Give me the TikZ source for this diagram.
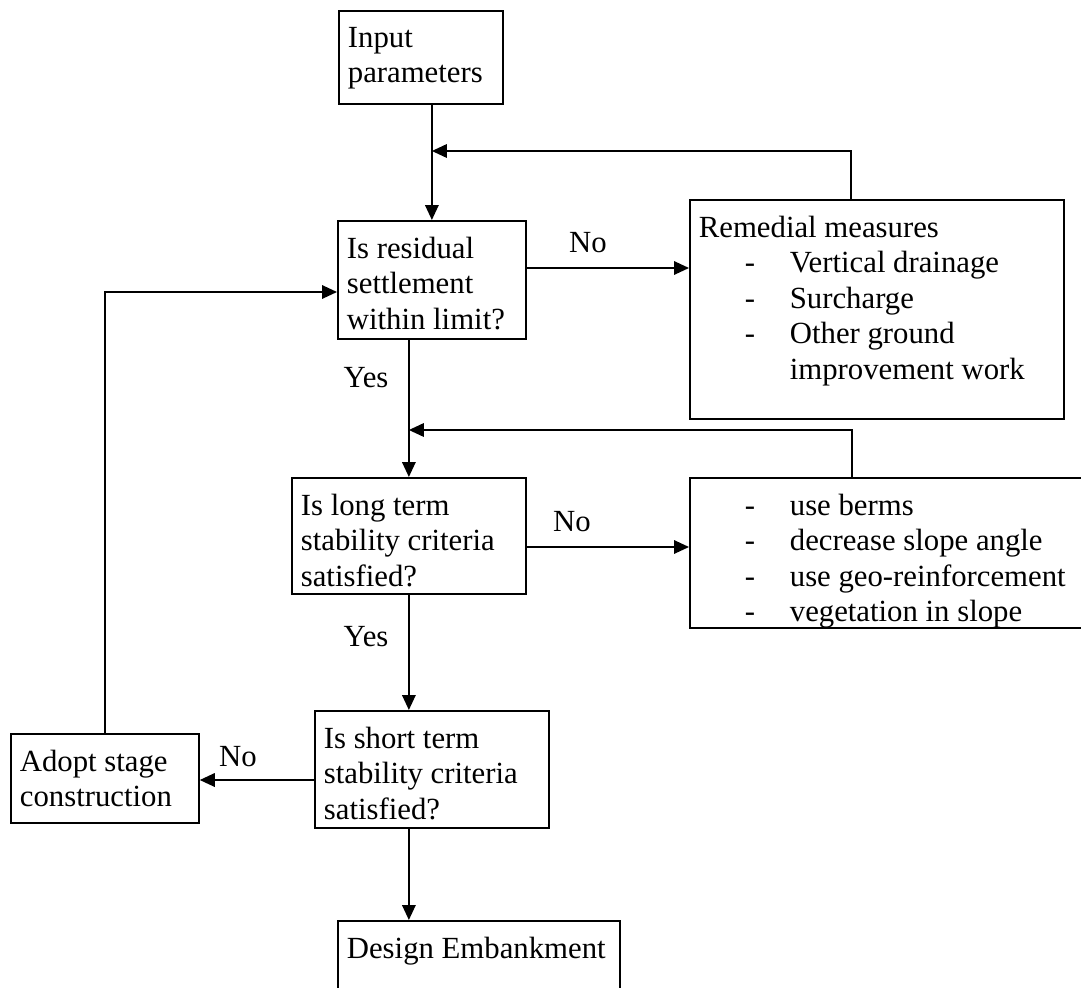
\documentclass[tikz,border=0pt]{standalone}
\usepackage{fontspec}
\setmainfont{Liberation Serif}
\usepackage{tikz}
\usetikzlibrary{arrows.meta}

\setlength{\unitlength}{0.2mm}
\newcommand{\boxtext}[3]{\parbox[c][#2\unitlength][t]{#1\unitlength}{\raggedright #3}}
\newcommand{\dashitem}[1]{\hspace*{46\unitlength}\makebox[45\unitlength][l]{-}#1}
\newcommand{\plainitem}[1]{\hspace*{91\unitlength}#1}

\tikzset{
	box/.style={draw, line width=1pt, rectangle, anchor=north west, inner xsep=9\unitlength, inner ysep=16\unitlength},
	arr/.style={line width=1pt, -{Triangle[length=3mm,width=2.7mm]}},
	lbl/.style={inner sep=0pt}
}

\begin{document}
\begin{tikzpicture}[x=0.2mm, y=-0.2mm, font=\fontsize{17.5}{20.2}\selectfont]
		\useasboundingbox (0,0) rectangle (1081,987);
		\clip (0,0) rectangle (1081,987);
%		\draw[help lines] (0,0) grid[step=50] (1081,987);
		\path (338,10) coordinate (inp_tl);
		\path (337,220) coordinate (res_tl);
		\path (689,199) coordinate (rem_tl);
		\path (291,477) coordinate (lng_tl);
		\path (689,477) coordinate (brm_tl);
		\path (314,710) coordinate (sht_tl);
		\path (10,733) coordinate (adp_tl);
		\path (337,920) coordinate (dsg_tl);

		\path (851,151) coordinate (loop1);
		\path (852,430) coordinate (loop2);
		\path (0,268) coordinate (no1);
		\path (0,547) coordinate (no2);
		\path (0,780) coordinate (no3);
		\path (0,292) coordinate (back);

		\node[box] (inp) at (inp_tl) {\boxtext{146}{61}{Input\\parameters}};
		\node[box] (res) at (res_tl) {\boxtext{170}{86}{Is residual\\settlement\\within limit?}};
		\node[box] (rem) at (rem_tl) {\boxtext{356}{187}{Remedial measures\\
			\dashitem{Vertical drainage}\\
			\dashitem{Surcharge}\\
			\dashitem{Other ground}\\
			\plainitem{improvement work}}};
		\node[box] (lng) at (lng_tl) {\boxtext{216}{84}{Is long term\\stability criteria\\satisfied?}};
		\node[box] (brm) at (brm_tl) {\boxtext{402}{118}{\dashitem{use berms}\\
			\dashitem{decrease slope angle}\\
			\dashitem{use geo-reinforcement}\\
			\dashitem{vegetation in slope}}};
		\node[box] (sht) at (sht_tl) {\boxtext{216}{85}{Is short term\\stability criteria\\satisfied?}};
		\node[box] (adp) at (adp_tl) {\boxtext{170}{57}{Adopt stage\\construction}};
		\node[box] (dsg) at (dsg_tl) {\boxtext{264}{48}{Design Embankment}};

		\node[lbl] (no1_lbl) at (588,243) {No};
		\node[lbl] (no2_lbl) at (572,522) {No};
		\node[lbl] (no3_lbl) at (238,757) {No};
		\node[lbl] (yes1_lbl) at (366,378) {Yes};
		\node[lbl] (yes2_lbl) at (366,637) {Yes};

		\draw[arr] (inp.south -| res.north) -- (res.north);
		\draw[arr] (rem.north -| loop1) -- (loop1) -- (loop1 -| res.north);
		\draw[arr] (res.east |- no1) -- (rem.west |- no1);
		\draw[arr] (res.south -| lng.north) -- (lng.north);
		\draw[arr] (brm.north -| loop2) -- (loop2) -- (loop2 -| lng.north);
		\draw[arr] (lng.east |- no2) -- (brm.west |- no2);
		\draw[arr] (lng.south) -- (lng.south |- sht.north);
		\draw[arr] (sht.south -| lng.south) -- (lng.south |- dsg.north);
		\draw[arr] (sht.west |- no3) -- (adp.east |- no3);
		\draw[arr] (adp.north) -- (adp.north |- back) -- (res.west |- back);
	\end{tikzpicture}
\end{document}
